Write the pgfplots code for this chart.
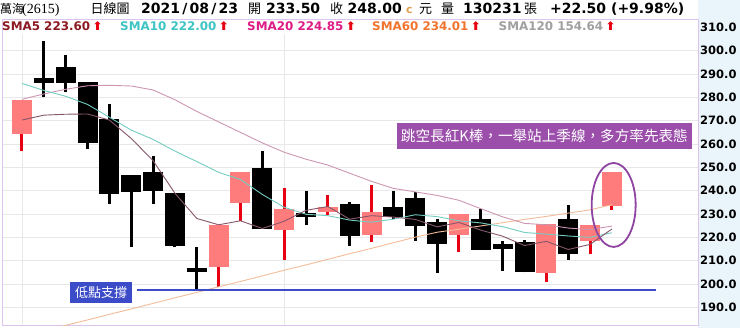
\documentclass[border=0pt]{standalone}
\usepackage{pgfplots}
\pgfplotsset{compat=1.18}
\usepackage{pgfplotstable}
\usepackage{fontspec}
\setmainfont{DejaVu Sans}
\newfontfamily\dv{DejaVu Sans}
\newfontfamily\cjk{Noto Sans CJK TC}
\newfontfamily\ser{Liberation Serif}
\definecolor{upred}{HTML}{FF7C7C}
\definecolor{wickred}{HTML}{E60012}
\definecolor{sma5}{HTML}{8B1A22}
\definecolor{sma10}{HTML}{3EC4C4}
\definecolor{sma20}{HTML}{DE1C86}
\definecolor{sma60}{HTML}{F0742E}
\definecolor{sma120}{HTML}{A0A0A0}
\definecolor{l5}{HTML}{86566A}
\definecolor{l10}{HTML}{72CCC2}
\definecolor{l20}{HTML}{CC96B2}
\definecolor{l60}{HTML}{F2BC98}
\definecolor{frame}{HTML}{DCC4EC}
\definecolor{supp}{HTML}{3C4BC8}
\definecolor{note}{HTML}{9B4FAA}
\definecolor{ring}{HTML}{8E44A0}
\definecolor{side}{HTML}{EAF4FB}
\definecolor{cc}{HTML}{E0A050}

% up (red) candles: index, open, high, low, close
\pgfplotstableread{
i o h l c
1 264.4 278.9 257.0 278.9
10 207.4 225.3 198.9 225.3
11 234.9 247.9 227.0 247.9
13 223.3 241.3 210.3 232.0
15 231.0 238.2 229.6 233.1
17 220.9 242.4 217.9 231.0
21 221.0 230.0 213.8 230.0
25 204.6 225.7 200.7 225.7
27 218.6 225.3 212.9 225.3
28 233.5 248.0 231.7 248.0
}\uptab

% down (black) candles and crosses
\pgfplotstableread{
i o h l c
2 288.4 304.3 280.0 286.4
3 293.1 298.2 282.2 286.3
4 286.7 286.7 258.0 260.3
5 270.6 277.2 234.3 238.5
6 246.9 246.9 216.0 239.6
7 248.0 254.9 234.3 240.0
8 238.9 238.9 215.7 216.3
9 207.0 215.7 197.4 205.0
12 249.9 257.0 223.4 223.4
14 230.6 239.9 225.3 228.6
16 234.3 235.3 216.3 220.7
18 232.9 239.9 227.7 228.9
19 236.7 239.3 218.4 224.9
20 226.7 227.9 204.9 217.1
22 227.9 232.0 214.6 214.6
23 217.0 218.6 205.7 215.0
24 217.9 218.9 205.0 205.0
26 227.9 233.9 210.3 212.9
}\downtab

% moving averages
\pgfplotstableread{
i s5 s10 s20 s60
1 270.3 286.0 279.2 177.5
2 272.4 283.0 281.5 179.9
3 272.8 280.5 283.5 182.3
4 272.9 277.0 285.0 184.6
5 270.3 271.5 285.2 187.0
6 262.4 266.0 284.9 189.3
7 252.9 262.0 283.2 191.7
8 238.9 257.0 279.0 194.1
9 228.1 252.5 274.0 196.4
10 225.4 247.9 269.5 198.8
11 227.1 244.8 265.0 201.1
12 223.8 238.4 260.5 203.5
13 226.9 232.9 256.5 205.9
14 231.6 229.9 253.5 208.2
15 233.2 229.3 251.0 210.6
16 227.8 227.4 247.5 213.0
17 229.3 226.5 244.0 215.3
18 228.7 227.8 241.0 217.7
19 227.7 229.7 239.5 220.1
20 224.5 228.9 238.0 222.2
21 226.4 227.1 235.9 223.5
22 223.1 226.2 232.3 224.9
23 220.5 224.6 228.8 226.3
24 216.5 222.1 226.0 227.7
25 218.3 221.4 225.4 229.0
26 214.8 220.6 224.0 230.4
27 217.0 220.0 223.3 231.8
28 223.6 222.0 224.85 234.0
}\smatab

\pgfplotsset{
  candle/.style 2 args={only marks, mark=none, mark size=0pt,
    mark options={draw=none, fill=none},
    error bars/.cd, y dir=plus, y explicit, error mark=none,
    error bar style={draw=#1, line width=#2, line cap=butt}},
}

\begin{document}
\begin{tikzpicture}
\fill[side] (698bp,0) rectangle (740bp,328bp);
\begin{axis}[
  at={(2bp,2bp)}, anchor=south west,
  scale only axis, width=696bp, height=306.7bp,
  xmin=0.085, xmax=31.94, ymin=182, ymax=313.5,
  axis line style={draw=frame, line width=1bp},
  xtick={1,13}, xticklabels={,},
  ytick={190,200,...,310},
  xmajorgrids, ymajorgrids,
  grid style={draw=black!9, line width=0.8bp},
  major tick length=0pt,
  yticklabel pos=right,
  yticklabel style={font=\dv\bfseries\fontsize{11.5bp}{12bp}\selectfont,
    anchor=west, inner sep=0pt, xshift=2bp,
    /pgf/number format/.cd, fixed, fixed zerofill, precision=1, assume math mode=true},
]
% wicks
\addplot[candle={wickred}{3bp}]
  table[x=i, y=l, y error expr=\thisrow{h}-\thisrow{l}] \uptab;
\addplot[candle={black}{3bp}]
  table[x=i, y=l, y error expr=\thisrow{h}-\thisrow{l}] \downtab;
% bodies
\addplot[candle={upred}{20bp}]
  table[x=i, y=o, y error expr=\thisrow{c}-\thisrow{o}] \uptab;
\addplot[candle={black}{20bp}]
  table[x=i, y=c, y error expr=\thisrow{o}-\thisrow{c}] \downtab;
% moving averages
\addplot[l60, line width=0.9bp, mark=none] table[x=i, y=s60] \smatab;
\addplot[l20, line width=0.9bp, mark=none] table[x=i, y=s20] \smatab;
\addplot[l10, line width=0.9bp, mark=none] table[x=i, y=s10] \smatab;
\addplot[l5, line width=0.9bp, mark=none] table[x=i, y=s5] \smatab;
% support line
\addplot[supp, line width=2bp, mark=none] coordinates {(6.26,197.3) (30.02,197.3)};
\node[fill=supp, text=white, font=\cjk\fontsize{13bp}{13bp}\selectfont, inner sep=0pt,
  minimum width=62bp, minimum height=21.6bp] at (axis cs:4.62,196.4) {低點支撐};
\node[fill=note, text=white, font=\cjk\fontsize{14.6bp}{15bp}\selectfont, inner sep=0pt,
  minimum width=295bp, minimum height=26bp] at (axis cs:24.91,263.3) {跳空長紅K棒，一舉站上季線，多方率先表態};
\draw[ring, line width=1.8bp] (axis cs:28.08,233.9) ellipse [x radius=22bp, y radius=42bp];
\end{axis}
% SMA legend row
\fill[white] (3bp,294bp) rectangle (697.5bp,308.2bp);
\newcommand{\up}{\hspace{2.5bp}\textcolor{wickred}{⬆}}
\begin{scope}[every node/.style={anchor=base west, inner sep=0pt, font=\dv\bfseries\fontsize{11.9bp}{12bp}\selectfont}]
\node[text=sma5] at (2bp,297.3bp) {SMA5 223.60\up};
\node[text=sma10] at (120bp,297.3bp) {SMA10 222.00\up};
\node[text=sma20] at (247bp,297.3bp) {SMA20 224.85\up};
\node[text=sma60] at (372bp,297.3bp) {SMA60 234.01\up};
\node[text=sma120] at (498.5bp,297.3bp) {SMA120 154.64\up};
\end{scope}
% header row
\begin{scope}[every node/.style={anchor=base west, inner sep=0pt}]
\node[font=\cjk\fontsize{12bp}{13bp}\selectfont] at (0bp,314.5bp) {萬海};
\node[font=\ser\fontsize{14bp}{15bp}\selectfont] at (22bp,314.5bp) {(2615)};
\node[font=\cjk\fontsize{13bp}{14bp}\selectfont] at (90.5bp,314.5bp) {日線圖};
\node[font=\dv\bfseries\fontsize{14bp}{15bp}\selectfont] at (141bp,314.5bp) {2021\hspace{2.2bp}/\hspace{2.2bp}08\hspace{2.2bp}/\hspace{2.2bp}23};
\node[font=\cjk\fontsize{13bp}{14bp}\selectfont] at (248bp,314.5bp) {開};
\node[font=\dv\bfseries\fontsize{14bp}{15bp}\selectfont] at (266bp,314.5bp) {233.50};
\node[font=\cjk\fontsize{13bp}{14bp}\selectfont] at (330bp,314.5bp) {收};
\node[font=\dv\bfseries\fontsize{14bp}{15bp}\selectfont] at (347.5bp,314.5bp) {248.00};
\node[font=\dv\bfseries\fontsize{11bp}{12bp}\selectfont, text=cc] at (406bp,314.5bp) {c};
\node[font=\cjk\fontsize{13bp}{14bp}\selectfont] at (419bp,314.5bp) {元};
\node[font=\cjk\fontsize{13bp}{14bp}\selectfont] at (441bp,314.5bp) {量};
\node[font=\dv\bfseries\fontsize{14bp}{15bp}\selectfont] at (463bp,314.5bp) {130231};
\node[font=\cjk\fontsize{13bp}{14bp}\selectfont] at (524bp,314.5bp) {張};
\node[font=\dv\bfseries\fontsize{14bp}{15bp}\selectfont] at (550bp,314.5bp) {+22.50 (+9.98\%)};
\end{scope}
\pgfresetboundingbox
\path[use as bounding box] (0,0) rectangle (740bp,328bp);
\end{tikzpicture}
\end{document}
